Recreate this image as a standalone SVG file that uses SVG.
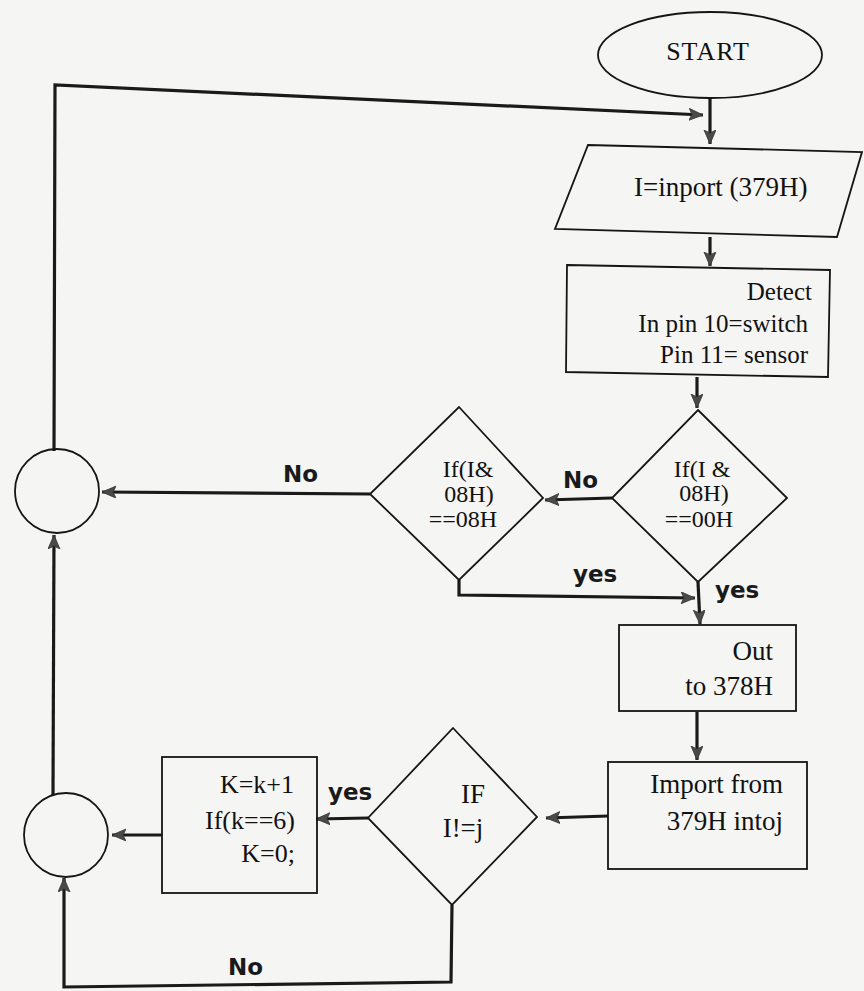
<svg xmlns="http://www.w3.org/2000/svg" width="864" height="991" viewBox="0 0 864 991">
<defs>
<style>
.shape{fill:none;stroke:#151515;stroke-width:1.8}
.conn{fill:none;stroke:#1a1a1a;stroke-width:3.2;stroke-linejoin:miter}
.t{font-family:"Liberation Serif","Times New Roman",serif;fill:#111}
.lbl{font-family:"DejaVu Sans","Liberation Sans",sans-serif;font-weight:bold;fill:#1a1a1a;font-size:23px}
</style>
<marker id="ah" markerUnits="userSpaceOnUse" markerWidth="16" markerHeight="14" refX="14" refY="6" orient="auto">
<path d="M0,0 L14,6 L0,12 L3,6 Z" fill="#4a4a4a" stroke="#333" stroke-width="0.8"/>
</marker>
</defs>
<rect x="0" y="0" width="864" height="991" fill="#f5f5f4"/>

<g id="connectors">
<path class="conn" d="M54,451 L55,85 L703,115" marker-end="url(#ah)"/>
<path class="conn" d="M710,98 L710,144" marker-end="url(#ah)"/>
<path class="conn" d="M710,237 L710,266" marker-end="url(#ah)"/>
<path class="conn" d="M697,377 L697,408" marker-end="url(#ah)"/>
<path class="conn" d="M612,498 L545,500" marker-end="url(#ah)"/>
<path class="conn" d="M370,494 L102,492" marker-end="url(#ah)"/>
<path class="conn" d="M459,580 L459,595 L695,598" marker-end="url(#ah)"/>
<path class="conn" d="M698,582 L700,624" marker-end="url(#ah)"/>
<path class="conn" d="M697,712 L697,760" marker-end="url(#ah)"/>
<path class="conn" d="M608,816 L546,818" marker-end="url(#ah)"/>
<path class="conn" d="M368,818 L316,819" marker-end="url(#ah)"/>
<path class="conn" d="M162,835 L112,835" marker-end="url(#ah)"/>
<path class="conn" d="M452,905 L451,982 L64,987 L64,878" marker-end="url(#ah)"/>
<path class="conn" d="M53,795 L54,535" marker-end="url(#ah)"/>
</g>

<g id="start">
<ellipse class="shape" cx="710" cy="55" rx="112" ry="43"/>
<text class="t" x="708" y="60" font-size="26" text-anchor="middle" letter-spacing="1">START</text>
</g>

<g id="input">
<polygon class="shape" points="588,145 862,152 837,237 555,229"/>
<text class="t" x="634" y="196" font-size="27">I=inport (379H)</text>
</g>

<g id="detect">
<polygon class="shape" points="567,265 830,270 828,377 566,372"/>
<text class="t" x="812" y="300" font-size="25" text-anchor="end">Detect</text>
<text class="t" x="808" y="332" font-size="25" text-anchor="end">In pin  10=switch</text>
<text class="t" x="808" y="363" font-size="25" text-anchor="end">Pin  11= sensor</text>
</g>

<g id="decision1">
<polygon class="shape" points="698,410 787,498 698,582 612,498"/>
<text class="t" x="702" y="477" font-size="24" text-anchor="middle">If(I &amp;</text>
<text class="t" x="704" y="501" font-size="24" text-anchor="middle">08H)</text>
<text class="t" x="699" y="527" font-size="24" text-anchor="middle">==00H</text>
<text class="lbl" x="563" y="488">No</text>
<text class="lbl" x="715" y="598">yes</text>
</g>

<g id="decision2">
<polygon class="shape" points="459,407 543,498 459,580 370,494"/>
<text class="t" x="468" y="477" font-size="24" text-anchor="middle">If(I&amp;</text>
<text class="t" x="469" y="502" font-size="24" text-anchor="middle">08H)</text>
<text class="t" x="463" y="527" font-size="24" text-anchor="middle">==08H</text>
<text class="lbl" x="283" y="482">No</text>
<text class="lbl" x="573" y="582">yes</text>
</g>

<g id="out">
<rect class="shape" x="619" y="625" width="177" height="86"/>
<text class="t" x="773" y="660" font-size="27" text-anchor="end">Out</text>
<text class="t" x="773" y="695" font-size="27" text-anchor="end">to  378H</text>
</g>

<g id="import">
<rect class="shape" x="608" y="762" width="199" height="107"/>
<text class="t" x="783" y="793" font-size="27" text-anchor="end">Import  from</text>
<text class="t" x="783" y="830" font-size="27" text-anchor="end">379H intoj</text>
</g>

<g id="decision3">
<polygon class="shape" points="453,728 537,817 452,905 368,818"/>
<text class="t" x="473" y="803" font-size="27" text-anchor="middle">IF</text>
<text class="t" x="463" y="837" font-size="27" text-anchor="middle">I!=j</text>
<text class="lbl" x="328" y="800">yes</text>
<text class="lbl" x="228" y="975">No</text>
</g>

<g id="counter">
<rect class="shape" x="162" y="757" width="155" height="136"/>
<text class="t" x="294" y="793" font-size="26" text-anchor="end">K=k+1</text>
<text class="t" x="295" y="829" font-size="26" text-anchor="end">If(k==6)</text>
<text class="t" x="295" y="862" font-size="26" text-anchor="end">K=0;</text>
</g>

<g id="connector-top">
<circle class="shape" cx="57" cy="491" r="42"/>
</g>

<g id="connector-bottom">
<circle class="shape" cx="66" cy="835" r="42"/>
</g>
</svg>
